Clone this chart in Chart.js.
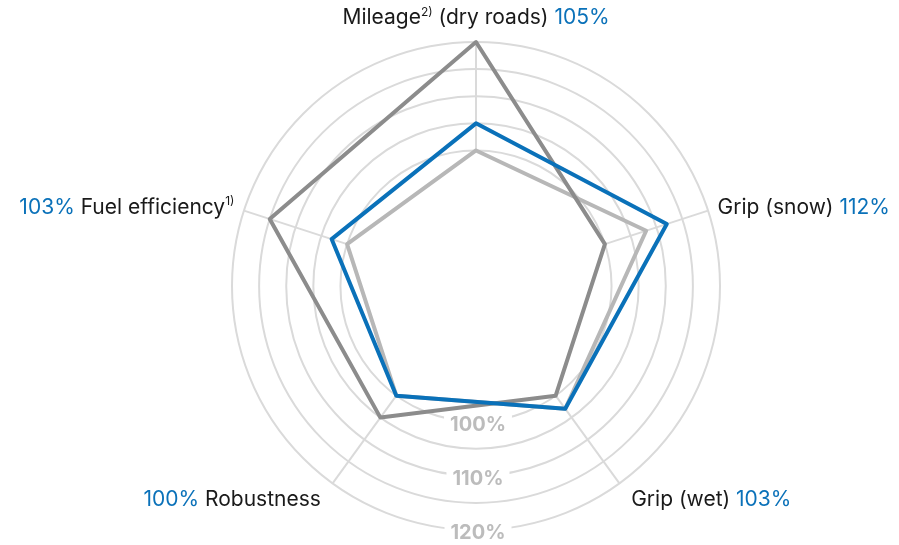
<!DOCTYPE html>
<html>
<head>
<meta charset="utf-8">
<script src="https://cdn.jsdelivr.net/npm/chart.js@4"></script>
<style>
  html, body { margin: 0; padding: 0; background: #fff; }
  #wrap { width: 899px; height: 545px; }
</style>
</head>
<body>
<div id="wrap"><canvas id="radar" width="899" height="545"></canvas></div>
<script>
// categories (clockwise from top) and footnote marks
const categories = ['Mileage', 'Grip (snow)', 'Grip (wet)', 'Robustness', 'Fuel efficiency'];
const footnotes = ['2)', '', '', '', '1)'];
const suffixes = [' (dry roads)', '', '', '', ''];

// series values in %
const newTyre = [105, 112, 103, 100, 103];      // blue, shown in labels
const competitorA = [120, 100, 100, 105, 115];  // dark grey
const competitorB = [100, 108, 103, 100, 100];  // light grey

// scale
const scaleMin = 75;
const scaleMax = 120;
const ringStart = 100;
const tickLabels = [100, 110, 120];

const BLUE = '#0a71b9';
const DARK = '#8c8c8c';
const LIGHT = '#b7b7b7';
const GRID = '#dadada';
const FONT = 'Inter, Roboto, sans-serif';

// spokes from the 100% ring outward, and the tick labels at the bottom
const ringPlugin = {
    id: 'ringPlugin',
    beforeDatasetsDraw(chart) {
        const scale = chart.scales.r;
        const ctx = chart.ctx;
        const r0 = scale.getDistanceFromCenterForValue(ringStart);
        const r1 = scale.getDistanceFromCenterForValue(scaleMax);
        ctx.save();
        ctx.strokeStyle = GRID;
        ctx.lineWidth = 2;
        for (let i = 0; i < categories.length; i++) {
            const a = scale.getPointPosition(i, r0);
            const b = scale.getPointPosition(i, r1);
            ctx.beginPath();
            ctx.moveTo(a.x, a.y);
            ctx.lineTo(b.x, b.y);
            ctx.stroke();
        }
        // tick labels straight down
        ctx.font = 'bold 20px ' + FONT;
        ctx.textAlign = 'center';
        ctx.textBaseline = 'middle';
        tickLabels.forEach(v => {
            const d = scale.getDistanceFromCenterForValue(v);
            const x = scale.xCenter + 2;
            const y = scale.yCenter + d + 3;
            const w = ctx.measureText(v + '%').width;
            ctx.fillStyle = '#fff';
            ctx.fillRect(x - w / 2 - 6, y - 10, w + 12, 20);
            ctx.fillStyle = '#bcbcbc';
            ctx.fillText(v + '%', x, y);
        });
        ctx.restore();
    }
};

// point labels with coloured value and superscript
const labelPlugin = {
    id: 'labelPlugin',
    afterDraw(chart) {
        const scale = chart.scales.r;
        const ctx = chart.ctx;
        const base = scale.drawingArea;
        const offsets = [24, 10, 20, 20, 10];
        const aligns = ['center', 'left', 'left', 'right', 'right'];
        ctx.save();
        ctx.textBaseline = 'middle';
        for (let i = 0; i < categories.length; i++) {
            const value = newTyre[i] + '%';
            let parts;
            if (aligns[i] === 'right') {
                parts = [
                    { t: value + ' ', c: BLUE },
                    { t: categories[i], c: '#1a1a1a' },
                    { t: footnotes[i], c: '#1a1a1a', sup: true },
                    { t: suffixes[i], c: '#1a1a1a' }
                ];
            } else {
                parts = [
                    { t: categories[i], c: '#1a1a1a' },
                    { t: footnotes[i], c: '#1a1a1a', sup: true },
                    { t: suffixes[i] + ' ', c: '#1a1a1a' },
                    { t: value, c: BLUE }
                ];
            }
            let total = 0;
            parts.forEach(p => {
                ctx.font = (p.sup ? '12px ' : '21px ') + FONT;
                p.w = ctx.measureText(p.t).width;
                total += p.w;
            });
            const pos = scale.getPointPosition(i, base + offsets[i]);
            let x = pos.x;
            if (aligns[i] === 'center') x -= total / 2;
            if (aligns[i] === 'right') x -= total;
            parts.forEach(p => {
                ctx.font = (p.sup ? '12px ' : '21px ') + FONT;
                ctx.fillStyle = p.c;
                ctx.textAlign = 'left';
                ctx.fillText(p.t, x, pos.y - (p.sup ? 6 : 0));
                x += p.w;
            });
        }
        ctx.restore();
    }
};

function makeSet(data, color) {
    return {
        data: data,
        borderColor: color,
        backgroundColor: 'transparent',
        borderWidth: 4,
        borderJoinStyle: 'round',
        pointRadius: 0,
        fill: false
    };
}

new Chart(document.getElementById('radar').getContext('2d'), {
    type: 'radar',
    data: {
        labels: categories,
        datasets: [
            makeSet(newTyre, BLUE),
            makeSet(competitorA, DARK),
            makeSet(competitorB, LIGHT)
        ]
    },
    options: {
        responsive: false,
        animation: false,
        layout: { padding: { top: 42, bottom: 15, left: 53, right: 0 } },
        plugins: { legend: { display: false }, tooltip: { enabled: false } },
        scales: {
            r: {
                min: scaleMin,
                max: scaleMax,
                ticks: { display: false, stepSize: 5 },
                pointLabels: { display: false },
                angleLines: { display: false },
                grid: {
                    circular: true,
                    lineWidth: 2,
                    color: c => (c.tick && c.tick.value >= ringStart) ? GRID : 'rgba(0,0,0,0)'
                }
            }
        }
    },
    plugins: [ringPlugin, labelPlugin]
});
</script>
</body>
</html>
